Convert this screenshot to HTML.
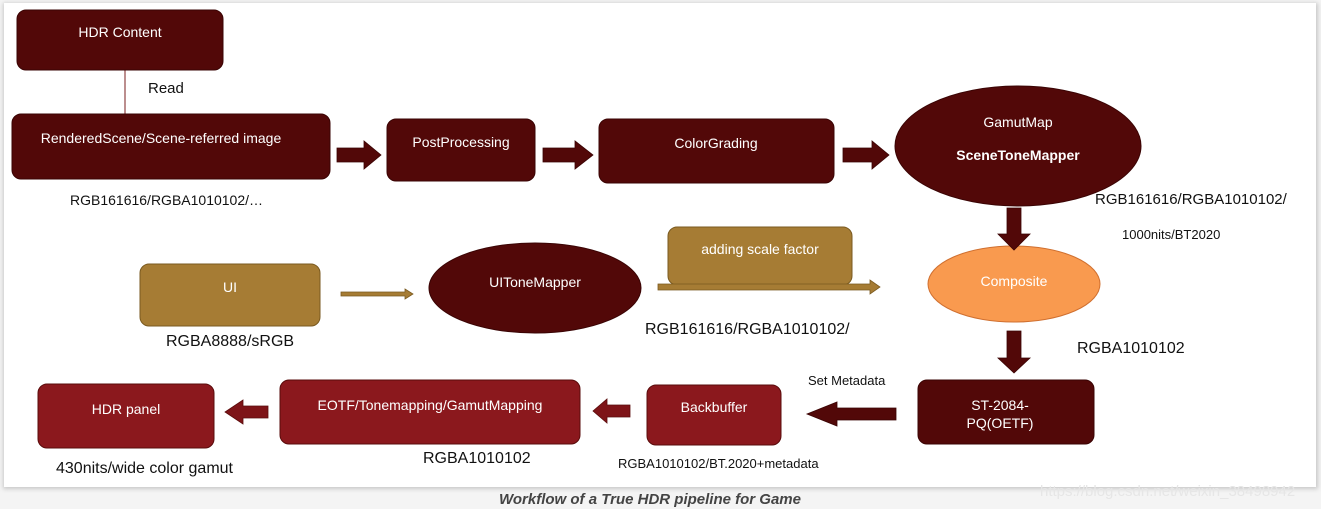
<!DOCTYPE html>
<html><head><meta charset="utf-8"><style>
html,body{margin:0;padding:0;background:#f4f4f4;}
svg{display:block;font-family:"Liberation Sans",Arial,sans-serif;}
</style></head><body>
<svg width="1321" height="509" viewBox="0 0 1321 509" xmlns="http://www.w3.org/2000/svg">
<defs>
<filter id="sh" x="-5%" y="-5%" width="110%" height="110%"><feGaussianBlur stdDeviation="2"/></filter>
</defs>
<rect x="0" y="0" width="1321" height="509" fill="#f4f4f4"/>
<rect x="3" y="3" width="1315" height="486" fill="#c8c8c8" filter="url(#sh)"/>
<rect x="4" y="3" width="1312" height="484" fill="#ffffff"/>

<g stroke="#3a0404" stroke-width="1">
<!-- HDR Content -->
<line x1="125" y1="70" x2="125" y2="114" stroke="#a56868" stroke-width="1.5"/>
<rect x="17" y="10" width="206" height="60" rx="9" fill="#520808"/>
<rect x="12" y="114" width="318" height="65" rx="9" fill="#520808"/>
<rect x="387" y="119" width="148" height="62" rx="9" fill="#520808"/>
<rect x="599" y="119" width="235" height="64" rx="9" fill="#520808"/>
<ellipse cx="1018" cy="146" rx="123" ry="60" fill="#520808"/>
<rect x="918" y="380" width="176" height="64" rx="9" fill="#520808"/>
</g>
<g stroke="#5a0c0c" stroke-width="1">
<rect x="647" y="385" width="134" height="60" rx="9" fill="#8b181d"/>
<rect x="280" y="380" width="300" height="64" rx="9" fill="#8b181d"/>
<rect x="38" y="384" width="176" height="64" rx="9" fill="#8b181d"/>
</g>
<g stroke="#7a5a20" stroke-width="1">
<rect x="668" y="227" width="184" height="58" rx="9" fill="#a67c34"/>
<rect x="140" y="264" width="180" height="62" rx="9" fill="#a67c34"/>
</g>
<ellipse cx="535" cy="288" rx="106" ry="45" fill="#520808" stroke="#3a0404"/>
<ellipse cx="1014" cy="284" rx="86" ry="38" fill="#f99a4f" stroke="#d07030"/>

<!-- block arrows right -->
<g fill="#520808" stroke="#3a0404" stroke-width="0.8">
<polygon points="337,148 364,148 364,141 381,155 364,169 364,162 337,162"/>
<polygon points="543,148 575,148 575,141 593,155 575,169 575,162 543,162"/>
<polygon points="843,148 872,148 872,141 889,155 872,169 872,162 843,162"/>
<!-- down arrows -->
<polygon points="1007,208 1021,208 1021,234 1030,234 1014,250 998,234 1007,234"/>
<polygon points="1007,331 1021,331 1021,358 1030,358 1014,373 998,358 1007,358"/>
<!-- left arrows -->
<polygon points="896,408 837,408 837,402 807,414 837,426 837,420 896,420"/>
</g>
<g fill="#7e1418" stroke="#5a0c0c" stroke-width="0.8">
<polygon points="630,405 607,405 607,399 593,411 607,423 607,417 630,417"/>
<polygon points="268,406 243,406 243,400 225,412 243,424 243,418 268,418"/>
</g>
<!-- gold arrows -->
<g fill="#a67c34" stroke="#7a5a20" stroke-width="0.8">
<polygon points="341,292 405,292 405,289 413,294 405,299 405,296 341,296"/>
<polygon points="658,284 870,284 870,280 880,287 870,294 870,290 658,290"/>
</g>

<!-- node text -->
<g fill="#ffffff" font-size="14" text-anchor="middle">
<text x="120" y="37">HDR Content</text>
<text x="161" y="143">RenderedScene/Scene-referred image</text>
<text x="461" y="147">PostProcessing</text>
<text x="716" y="148">ColorGrading</text>
<text x="1018" y="127">GamutMap</text>
<text x="1018" y="160" font-weight="bold">SceneToneMapper</text>
<text x="760" y="254">adding scale factor</text>
<text x="230" y="292">UI</text>
<text x="535" y="287">UIToneMapper</text>
<text x="1014" y="286">Composite</text>
<text x="1000" y="410">ST-2084-</text>
<text x="1000" y="428">PQ(OETF)</text>
<text x="714" y="412">Backbuffer</text>
<text x="430" y="410">EOTF/Tonemapping/GamutMapping</text>
<text x="126" y="414">HDR panel</text>
</g>

<!-- labels -->
<g fill="#111">
<text x="148" y="93" font-size="15">Read</text>
<text x="70" y="205" font-size="14">RGB161616/RGBA1010102/…</text>
<text x="1095" y="204" font-size="15">RGB161616/RGBA1010102/</text>
<text x="1122" y="239" font-size="13">1000nits/BT2020</text>
<text x="166" y="346" font-size="16">RGBA8888/sRGB</text>
<text x="645" y="334" font-size="16">RGB161616/RGBA1010102/</text>
<text x="1077" y="353" font-size="16">RGBA1010102</text>
<text x="808" y="385" font-size="13">Set Metadata</text>
<text x="618" y="468" font-size="13">RGBA1010102/BT.2020+metadata</text>
<text x="423" y="463" font-size="16">RGBA1010102</text>
<text x="56" y="473" font-size="16">430nits/wide color gamut</text>
</g>

<text x="650" y="504" font-size="15" font-style="italic" font-weight="bold" fill="#444" text-anchor="middle">Workflow of a True HDR pipeline for Game</text>
<text x="1040" y="496" font-size="15" fill="#e6e6e6">https://blog.csdn.net/weixin_38498942</text>
</svg>
</body></html>
